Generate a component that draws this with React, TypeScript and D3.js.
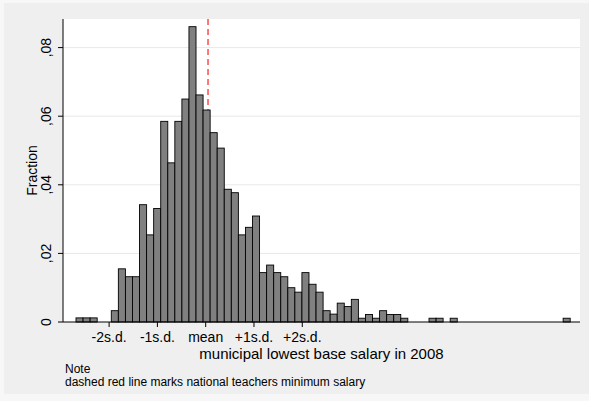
import React from "react";
import * as d3 from "d3";

// Histogram fractions per bin (bin index 0..69)
const fractions: number[] = [
  0.0012, 0.0012, 0.0012, 0, 0, 0.0033, 0.0155, 0.0132, 0.0132, 0.0342,
  0.0254, 0.0331, 0.0585, 0.0464, 0.0585, 0.065, 0.0861, 0.0662, 0.0618, 0.0552,
  0.0507, 0.0387, 0.0377, 0.0254, 0.0276, 0.0309, 0.0144, 0.0166, 0.0144, 0.0132,
  0.01, 0.0087, 0.0144, 0.011, 0.0087, 0.0033, 0.0023, 0.0055, 0.0045, 0.0066,
  0.0011, 0.0022, 0.0011, 0.0033, 0.0022, 0.0022, 0.0011, 0, 0, 0,
  0.0011, 0.0011, 0, 0.0011, 0, 0, 0, 0, 0, 0,
  0, 0, 0, 0, 0, 0, 0, 0, 0, 0.0011,
];

// x ticks, in bin units
const meanPos = 18.37;
const sdPos = 6.84;
const xTickLabels: string[] = ["-2s.d.", "-1s.d.", "mean", "+1s.d.", "+2s.d."];
const xTickOffsets: number[] = [-2, -1, 0, 1, 2];
const minSalaryPos = 18.7;

const yTicks: number[] = [0, 0.02, 0.04, 0.06, 0.08];
const yTickLabels: string[] = ["0", ",02", ",04", ",06", ",08"];

const W = 589;
const H = 401;
const plotL = 63;
const plotR = 580;
const plotT = 19;
const plotB = 322;
const FONT = "'Liberation Sans', Arial, Helvetica, sans-serif";

export default function App() {
  const x = d3.scaleLinear().domain([0, 70]).range([76, 76 + 70 * 7.06]);
  const y = d3.scaleLinear().domain([0, 0.08]).range([plotB, 47.6]);

  const bars = fractions
    .map((f, i) => ({ f, i }))
    .filter((d) => d.f > 0);

  return (
    <svg
      width={W}
      height={H}
      style={{ position: "absolute", left: 0, top: 0, display: "block" }}
      fontFamily={FONT}
    >
      <rect x={0} y={0} width={W} height={H} fill="#f7f7f7" />
      <rect x={4} y={3} width={W - 4} height={391} fill="#efefef" />
      <rect x={plotL} y={plotT} width={plotR - plotL} height={plotB - plotT} fill="#ffffff" />
      {yTicks
        .filter((t) => t > 0)
        .map((t) => (
          <line key={t} x1={plotL} x2={plotR} y1={y(t)} y2={y(t)} stroke="#e8e8e8" strokeWidth={1} />
        ))}
      <line
        x1={x(minSalaryPos)}
        x2={x(minSalaryPos)}
        y1={plotT}
        y2={plotB}
        stroke="#ff4c4c"
        strokeWidth={1.5}
        strokeDasharray="6,4"
      />
      {bars.map((d) => (
        <rect
          key={d.i}
          x={x(d.i)}
          y={y(d.f)}
          width={x(d.i + 1) - x(d.i)}
          height={y(0) - y(d.f)}
          fill="#808080"
          stroke="#000"
          strokeWidth={0.9}
        />
      ))}
      <line x1={plotL} x2={plotL} y1={plotT} y2={plotB} stroke="#000" strokeWidth={1} />
      <line x1={plotL} x2={plotR} y1={plotB} y2={plotB} stroke="#000" strokeWidth={1} />
      {yTicks.map((t, i) => (
        <g key={t}>
          <line x1={plotL - 5} x2={plotL} y1={y(t)} y2={y(t)} stroke="#000" strokeWidth={1} />
          <text
            transform={`translate(51,${y(t)}) rotate(-90)`}
            textAnchor="middle"
            fontSize={14}
            fill="#000"
          >
            {yTickLabels[i]}
          </text>
        </g>
      ))}
      <text
        transform={`translate(37,${(plotT + plotB) / 2}) rotate(-90)`}
        textAnchor="middle"
        fontSize={14}
        fill="#000"
      >
        Fraction
      </text>
      {xTickOffsets.map((o, i) => {
        const px = x(meanPos + o * sdPos);
        return (
          <g key={o}>
            <line x1={px} x2={px} y1={plotB} y2={plotB + 5} stroke="#000" strokeWidth={1} />
            <text x={px} y={342} textAnchor="middle" fontSize={14} fill="#000">
              {xTickLabels[i]}
            </text>
          </g>
        );
      })}
      <text x={(plotL + plotR) / 2} y={359} textAnchor="middle" fontSize={15} fill="#000">
        municipal lowest base salary in 2008
      </text>
      <text x={65} y={373} fontSize={12} fill="#000">
        Note
      </text>
      <text x={65} y={386} fontSize={12} fill="#000">
        dashed red line marks national teachers minimum salary
      </text>
    </svg>
  );
}
